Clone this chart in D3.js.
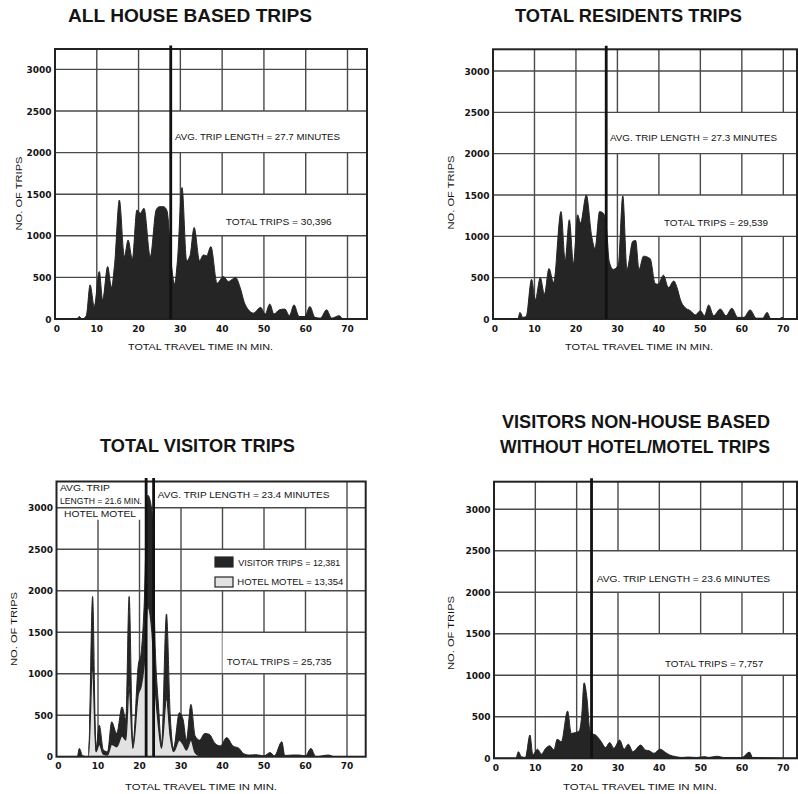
<!DOCTYPE html>
<html><head><meta charset="utf-8">
<script src="https://cdn.jsdelivr.net/npm/d3@7"></script>
<style>body{margin:0;background:#fff}svg{display:block}</style>
</head><body>
<svg id="c" width="798" height="794"></svg>
<script>
// ---------- DATA ----------
const xTicks = [0, 10, 20, 30, 40, 50, 60, 70];
const yTicks = [0, 500, 1000, 1500, 2000, 2500, 3000];

// [minutes, trips]
const allHouseTrips = [[0,0],[5.2,0],[5.8,30],[6.5,0],[7.5,40],[8.4,410],[9.4,150],[10.6,570],[11.4,230],[12.6,630],[13.5,380],[14.3,680],[15.4,1430],[16.6,750],[17.5,950],[18.5,720],[19.6,1310],[20.4,1270],[21.3,1330],[22.8,750],[24.2,1310],[25,1350],[26,1350],[26.8,1300],[28,590],[28.6,420],[29.3,700],[30.4,1580],[31.5,700],[32.3,760],[33.3,1100],[34.6,700],[35.5,770],[36.3,760],[37.3,870],[38.8,430],[40.3,510],[41.5,450],[42.2,470],[43.2,500],[44.3,380],[45.3,200],[46.3,110],[47.5,70],[49.2,140],[50.3,60],[51.4,180],[52.4,60],[53.7,110],[55,120],[56.1,40],[57.2,170],[58.4,30],[59.8,30],[61,150],[62.2,20],[63.5,10],[65,110],[66.2,10],[68,40],[69,0],[75,0]];

const residentTrips = [[0,0],[6,0],[6.5,80],[7.2,20],[8,30],[9.3,480],[10.2,230],[11.4,500],[12.4,300],[13.5,610],[14.6,440],[16.4,1300],[17.4,710],[18.4,1200],[19.4,670],[20.4,1260],[21.1,1160],[22.5,1500],[23.8,1000],[24.6,850],[25.7,1300],[26.6,1280],[27.4,1080],[28,700],[29,600],[30.2,650],[31.3,1490],[32.3,600],[33.7,940],[34.4,950],[35.2,600],[36.3,760],[37.9,730],[39.1,430],[39.8,420],[41.1,530],[42.3,380],[43.6,460],[44.5,360],[45.2,230],[46.3,140],[47.6,100],[48.8,50],[50,100],[51,40],[52,170],[53.2,40],[54.8,120],[56.2,40],[57.6,130],[59,20],[60.5,20],[62,110],[63.5,10],[65,10],[66.1,80],[67,0],[69,0],[69.7,20],[70.3,0],[75,0]];

const visitorMinutes  = [0,5,5.5,6.3,7.7,8.7,9.5,10.3,11.3,12.3,13.3,14.5,15.8,16.7,17.5,18.4,19.7,20.4,21.1,22,23,23.8,24.6,25.3,26.5,27.4,28.2,29.6,30.5,31.3,32.4,33.4,34.5,35.7,36.8,38.2,39.5,41,42.5,44,45,46.5,48,50,51.5,52.5,54.3,55,57,58.5,60,61.3,62.5,65.5,67,75];
const hotelMotelTrips = [0,0,0,0,0,1100,60,150,30,20,150,120,250,200,850,100,750,850,1100,1800,1500,800,350,100,700,250,60,200,150,80,200,50,10,0,0,0,0,0,0,0,0,0,0,0,0,0,0,0,0,0,0,0,0,0,0,0];
const visitorTrips    = [0,0,100,10,0,830,40,230,50,40,270,160,350,250,1080,50,350,400,700,1350,1450,500,250,50,1020,250,40,330,300,120,430,200,190,280,270,160,130,230,130,100,40,20,25,10,50,10,180,15,20,20,10,100,0,20,0,0];

const nonHouseVisitorTrips = [[0,0],[5.3,0],[5.9,80],[6.6,20],[7.6,10],[8.7,280],[9.4,40],[10.5,110],[11.5,50],[12.5,120],[13.5,150],[14.5,100],[15.3,230],[16.3,200],[17.8,570],[18.7,300],[19.7,310],[20.6,330],[21.2,500],[21.8,910],[22.5,720],[23.2,330],[23.6,300],[24.6,280],[25.8,210],[27,130],[28,190],[29,120],[30.4,220],[31.5,110],[32.5,170],[33.6,80],[35.5,160],[36.6,100],[37.6,90],[38.7,60],[40.2,110],[41.5,70],[42.5,40],[44,20],[45.5,10],[47,15],[49,10],[51,20],[52,10],[54,25],[55.5,10],[57,10],[60,10],[61.8,75],[62.6,10],[64,10],[70,0],[75,0]];

const avgAllHouse = 27.7, avgResidents = 27.3, avgVisitor = 23.4, avgHotelMotel = 21.6, avgNonHouse = 23.6;

// ---------- DRAW ----------
const svg = d3.select('#c');
svg.append('rect').attr('width',798).attr('height',794).attr('fill','#fff');
const INK = '#141414';
const FONT = "'Liberation Sans', Arial, sans-serif";

function txt(g, s, x, y, o) {
  o = o || {};
  const t = g.append('text').attr('x', x).attr('y', y).text(s)
    .attr('font-family', o.family || FONT)
    .attr('font-size', o.size || 9.5)
    .attr('font-weight', o.weight || 'normal')
    .attr('fill', INK)
    .attr('text-anchor', o.anchor || 'start');
  if (o.len) t.attr('textLength', o.len).attr('lengthAdjust', 'spacingAndGlyphs');
  if (o.rotate) t.attr('transform', `rotate(-90 ${x} ${y})`);
  return t;
}

function panel(p) {
  const g = svg.append('g');
  const x = d3.scaleLinear().domain([0, 70]).range([p.x0, p.x70]);
  const y = d3.scaleLinear().domain([0, 3000]).range([p.y0, p.y3000]);
  const R = p.right, T = p.top;
  const bx = v => v === 'R' ? R : x(v);
  const by = v => v === 'T' ? T : y(v);

  // vertical grid
  g.selectAll(null).data(xTicks.filter(d => d > 0)).join('line')
    .attr('x1', d => x(d)).attr('x2', d => x(d)).attr('y1', T).attr('y2', p.y0)
    .attr('stroke', '#4a4a4a').attr('stroke-width', 1.4);
  // white label boxes
  g.selectAll(null).data(p.boxes).join('rect')
    .attr('x', d => bx(d[0])).attr('width', d => bx(d[1]) - bx(d[0]))
    .attr('y', d => by(d[3])).attr('height', d => by(d[2]) - by(d[3]))
    .attr('fill', '#fff');
  // horizontal grid
  g.selectAll(null).data(yTicks.filter(d => d > 0)).join('line')
    .attr('x1', p.x0).attr('x2', R).attr('y1', d => y(d)).attr('y2', d => y(d))
    .attr('stroke', '#4a4a4a').attr('stroke-width', 1.4);

  // clip
  const cid = 'clip' + p.id;
  svg.append('clipPath').attr('id', cid).append('rect')
    .attr('x', p.x0).attr('y', T).attr('width', R - p.x0).attr('height', p.y0 - T);
  const dg = g.append('g').attr('clip-path', `url(#${cid})`);
  p.drawData(dg, x, y);

  // frame
  g.append('rect').attr('x', p.x0).attr('y', T).attr('width', R - p.x0).attr('height', p.y0 - T)
    .attr('fill', 'none').attr('stroke', '#222').attr('stroke-width', 2);

  // tick labels
  g.selectAll(null).data(xTicks).join('text')
    .attr('x', d => x(d) + (d === 0 ? 2 : 0)).attr('y', p.y0 + 12.5)
    .attr('text-anchor', 'middle').attr('font-family', "'DejaVu Sans', sans-serif")
    .attr('font-weight', 'bold').attr('font-size', 9).attr('fill', INK).text(d => d);
  g.selectAll(null).data(yTicks).join('text')
    .attr('x', p.x0 - 3.5).attr('y', d => y(d) + 3.5)
    .attr('text-anchor', 'end').attr('font-family', "'DejaVu Sans', sans-serif")
    .attr('font-weight', 'bold').attr('font-size', 9).attr('fill', INK).text(d => d);

  // average lines
  g.selectAll(null).data(p.avg).join('line')
    .attr('x1', d => x(d)).attr('x2', d => x(d)).attr('y1', T - 3.5).attr('y2', p.y0)
    .attr('stroke', '#111').attr('stroke-width', 2.8);

  // titles & labels
  p.title.forEach(t => txt(g, t.s, t.x, t.y, { size: 18, weight: 'bold', len: t.len }));
  txt(g, 'NO. OF TRIPS', p.ylab[0], p.ylab[1], { anchor: 'middle', rotate: true, len: 74 });
  txt(g, 'TOTAL TRAVEL TIME IN MIN.', p.xlab[0], p.xlab[1], { len: p.xlab[2] });
  p.notes.forEach(n => txt(g, n.s, n.x, n.y, { len: n.len }));
  if (p.extra) p.extra(g, x, y);
}

function simpleArea(data) {
  return (g, x, y) => {
    const a = d3.area().x(d => x(d[0])).y0(y(0)).y1(d => y(d[1])).curve(d3.curveMonotoneX);
    g.append('path').attr('d', a(data)).attr('fill', '#252525')
      .attr('stroke', '#252525').attr('stroke-width', 1);
  };
}

// Panel 1
panel({
  id: 1, x0: 55, x70: 347.5, right: 367, y0: 319, y3000: 69.4, top: 49,
  boxes: [[avgAllHouse, 'R', 2000, 2500], [30.6, 'R', 1000, 1500]],
  drawData: simpleArea(allHouseTrips),
  avg: [avgAllHouse],
  title: [{ s: 'ALL HOUSE BASED TRIPS', x: 68, y: 21.5, len: 244 }],
  ylab: [22, 193.5], xlab: [128, 350, 145],
  notes: [
    { s: 'AVG. TRIP LENGTH = 27.7 MINUTES', x: 175, y: 140, len: 165 },
    { s: 'TOTAL TRIPS = 30,396', x: 225.7, y: 225, len: 106 }
  ]
});

// Panel 2
panel({
  id: 2, x0: 493, x70: 783.3, right: 797, y0: 319, y3000: 71, top: 49.3,
  boxes: [[avgResidents, 'R', 2000, 2500], [32, 'R', 1000, 1500]],
  drawData: simpleArea(residentTrips),
  avg: [avgResidents],
  title: [{ s: 'TOTAL RESIDENTS TRIPS', x: 515, y: 21.5, len: 227 }],
  ylab: [453.5, 192.5], xlab: [565, 350, 148],
  notes: [
    { s: 'AVG. TRIP LENGTH = 27.3 MINUTES', x: 610, y: 141, len: 167 },
    { s: 'TOTAL TRIPS = 29,539', x: 664, y: 226, len: 104 }
  ]
});

// Panel 3 (stacked)
const visitorTable = visitorMinutes.map((m, i) => ({ m, hotel: hotelMotelTrips[i], visitor: visitorTrips[i] }));
panel({
  id: 3, x0: 56.5, x70: 347, right: 365.7, y0: 756.7, y3000: 507.7, top: 481.5,
  boxes: [[0, avgHotelMotel, 2855, 'T'], [avgVisitor, 68, 3000, 'T'], [38, 68, 2000, 2500], [40, 68, 1000, 1500]],
  drawData: (g, x, y) => {
    const series = d3.stack().keys(['hotel', 'visitor'])(visitorTable);
    const a = d3.area().x(d => x(d.data.m)).y0(d => y(d[0])).y1(d => y(d[1])).curve(d3.curveMonotoneX);
    const l = d3.line().x(d => x(d.data.m)).y(d => y(d[1])).curve(d3.curveMonotoneX);
    g.append('path').attr('d', a(series[1])).attr('fill', '#252525').attr('stroke', '#252525').attr('stroke-width', 1);
    g.append('path').attr('d', a(series[0])).attr('fill', '#e2e2e2');
    g.append('path').attr('d', l(series[0])).attr('fill', 'none').attr('stroke', '#252525').attr('stroke-width', 1.3);
  },
  avg: [avgHotelMotel, avgVisitor],
  title: [{ s: 'TOTAL VISITOR TRIPS', x: 100, y: 452, len: 195 }],
  ylab: [17, 629], xlab: [125, 790, 152],
  notes: [
    { s: 'AVG. TRIP LENGTH = 23.4 MINUTES', x: 157.7, y: 498.3, len: 171.7 },
    { s: 'AVG. TRIP', x: 60, y: 491, len: 50 },
    { s: 'LENGTH = 21.6 MIN.', x: 60, y: 504.3, len: 82 },
    { s: 'HOTEL MOTEL', x: 64, y: 516.7, len: 72 },
    { s: 'VISITOR TRIPS = 12,381', x: 238.3, y: 565.7, len: 102 },
    { s: 'HOTEL MOTEL = 13,354', x: 237.3, y: 585, len: 106 },
    { s: 'TOTAL TRIPS = 25,735', x: 226.7, y: 665, len: 105 }
  ],
  extra: (g) => {
    g.append('rect').attr('x', 215).attr('y', 557).attr('width', 18).attr('height', 10)
      .attr('fill', '#252525').attr('stroke', '#252525').attr('stroke-width', 1.2);
    g.append('rect').attr('x', 215).attr('y', 577).attr('width', 18).attr('height', 10)
      .attr('fill', '#e2e2e2').attr('stroke', '#252525').attr('stroke-width', 1.2);
  }
});

// Panel 4
panel({
  id: 4, x0: 494, x70: 783.3, right: 797, y0: 758.3, y3000: 509.3, top: 481.7,
  boxes: [[avgNonHouse, 'R', 2000, 2500], [32, 'R', 1000, 1500]],
  drawData: simpleArea(nonHouseVisitorTrips),
  avg: [avgNonHouse],
  title: [
    { s: 'VISITORS NON-HOUSE BASED', x: 502, y: 428, len: 268 },
    { s: 'WITHOUT HOTEL/MOTEL TRIPS', x: 500, y: 453, len: 270 }
  ],
  ylab: [453.5, 633], xlab: [563, 790, 154],
  notes: [
    { s: 'AVG. TRIP LENGTH = 23.6 MINUTES', x: 596.7, y: 582.3, len: 173.3 },
    { s: 'TOTAL TRIPS = 7,757', x: 665, y: 666.7, len: 98.3 }
  ]
});
</script>
</body></html>
